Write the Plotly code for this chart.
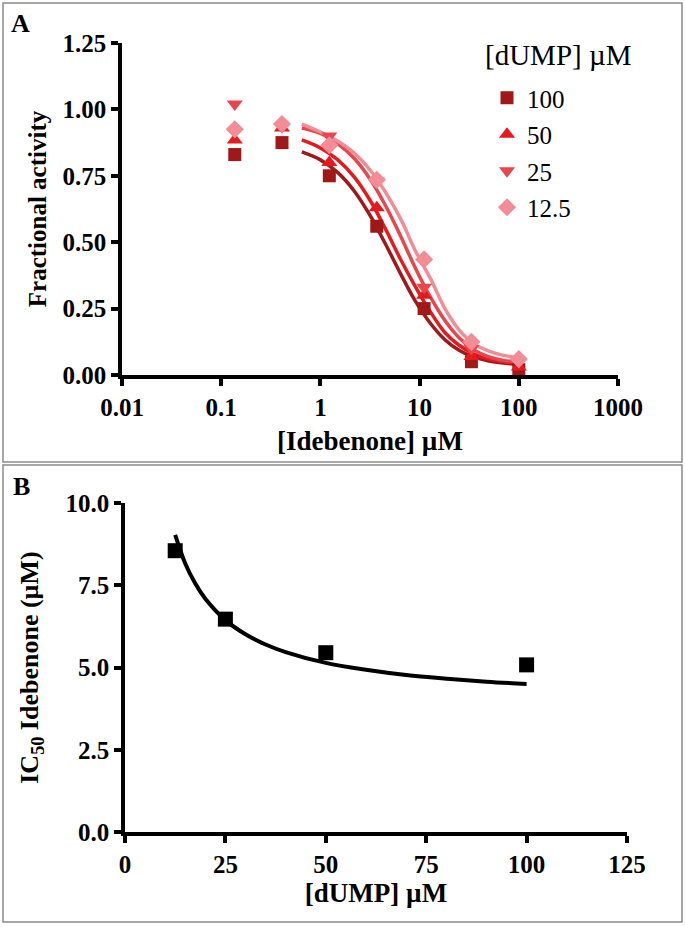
import plotly.graph_objects as go

# ---------------- Data: panel A ----------------
idebenone = [0.137, 0.41, 1.23, 3.7, 11.1, 33.3, 100]
dump_levels = ["100", "50", "25", "12.5"]
act_100 = [0.83, 0.875, 0.75, 0.56, 0.25, 0.05, 0.02]
act_50 = [0.885, 0.93, 0.80, 0.63, 0.30, 0.07, 0.03]
act_25 = [1.02, 0.935, 0.90, 0.73, 0.33, 0.10, 0.05]
act_12 = [0.925, 0.945, 0.865, 0.735, 0.435, 0.125, 0.06]

# fitted curves
fit_x = [0.65, 1, 1.5, 2.2, 3.2, 4.5, 6.5, 9, 13, 18, 25, 35, 50, 70, 100]
fit_100 = [0.840, 0.810, 0.762, 0.692, 0.598, 0.495, 0.378, 0.280, 0.192, 0.133, 0.093, 0.068, 0.053, 0.045, 0.040]
fit_50 = [0.885, 0.855, 0.810, 0.745, 0.655, 0.552, 0.432, 0.335, 0.235, 0.160, 0.112, 0.080, 0.060, 0.050, 0.044]
fit_25 = [0.930, 0.910, 0.870, 0.815, 0.735, 0.640, 0.520, 0.405, 0.290, 0.205, 0.140, 0.095, 0.068, 0.055, 0.048]
fit_12 = [0.945, 0.915, 0.880, 0.835, 0.770, 0.690, 0.585, 0.470, 0.360, 0.250, 0.170, 0.118, 0.090, 0.074, 0.066]

x_ticks_a = [0.01, 0.1, 1, 10, 100, 1000]
x_ticktext_a = ["0.01", "0.1", "1", "10", "100", "1000"]
y_ticks_a = [0, 0.25, 0.5, 0.75, 1.0, 1.25]

# ---------------- Data: panel B ----------------
dump_conc = [12.5, 25, 50, 100]
ic50 = [8.55, 6.47, 5.45, 5.08]
curve_b_x = [12.5, 15, 17.5, 20, 25, 30, 35, 40, 50, 60, 70, 80, 90, 100]
curve_b_y = [9.03, 8.16, 7.55, 7.09, 6.44, 6.01, 5.70, 5.47, 5.14, 4.93, 4.77, 4.66, 4.57, 4.50]
x_ticks_b = [0, 25, 50, 75, 100, 125]
y_ticks_b = [0, 2.5, 5.0, 7.5, 10.0]

colors = ["#a01818", "#e5191e", "#e8464c", "#f28d95"]
symbols = ["square", "triangle-up", "triangle-down", "diamond"]
msizes = [13, 14, 14, 14]
acts = [act_100, act_50, act_25, act_12]
fits = [fit_100, fit_50, fit_25, fit_12]

W, H = 685, 927
FONT = "Liberation Serif"

fig = go.Figure()

for i in range(4):
    fig.add_trace(go.Scatter(
        x=fit_x, y=fits[i], mode="lines", line=dict(color=colors[i], width=3.5, shape="spline"),
        xaxis="x", yaxis="y", showlegend=False, hoverinfo="skip"))
for i in range(4):
    fig.add_trace(go.Scatter(
        x=idebenone, y=acts[i], mode="markers", name=dump_levels[i],
        marker=dict(symbol=symbols[i], color=colors[i], size=msizes[i], line=dict(width=0)),
        xaxis="x", yaxis="y", legendgroup=dump_levels[i], cliponaxis=False))

fig.add_trace(go.Scatter(
    x=curve_b_x, y=curve_b_y, mode="lines", line=dict(color="black", width=4, shape="spline"),
    xaxis="x2", yaxis="y2", showlegend=False))
fig.add_trace(go.Scatter(
    x=dump_conc, y=ic50, mode="markers", marker=dict(symbol="square", color="black", size=15),
    xaxis="x2", yaxis="y2", showlegend=False, cliponaxis=False))

axis_common = dict(
    showline=True, linecolor="black", linewidth=3.5, ticks="outside", ticklen=7, tickwidth=3.5,
    tickcolor="black", showgrid=False, zeroline=False, automargin=False,
    tickfont=dict(family=FONT, size=25, color="black", weight="bold"),
)
title_font = dict(family=FONT, size=26, color="black", weight="bold")

def xdom(a, b):
    return [a / W, b / W]

def ydom(top, bottom):
    return [1 - bottom / H, 1 - top / H]

fig.update_layout(
    template="none",
    width=W, height=H, margin=dict(l=0, r=0, t=0, b=0, pad=0),
    paper_bgcolor="white", plot_bgcolor="white",
    font=dict(family=FONT, color="black"),
    xaxis=dict(axis_common, type="log", range=[-2, 3], domain=xdom(122, 618),
               tickvals=x_ticks_a, ticktext=x_ticktext_a, anchor="y",
               title=dict(text="[Idebenone] µM", font=dict(title_font, size=27), standoff=12)),
    yaxis=dict(axis_common, range=[0, 1.25], domain=ydom(43, 375), tickvals=y_ticks_a,
               tickformat=".2f", anchor="x",
               title=dict(text="Fractional activity", font=dict(title_font, size=25), standoff=10)),
    xaxis2=dict(axis_common, range=[0, 125], domain=xdom(125, 627), tickvals=x_ticks_b, anchor="y2",
                title=dict(text="[dUMP] µM", font=dict(title_font, size=27), standoff=4)),
    yaxis2=dict(axis_common, range=[0, 10], domain=ydom(503, 832), tickvals=y_ticks_b,
                tickformat=".1f", anchor="x2",
                title=dict(text="IC<sub>50</sub> Idebenone (µM)", font=title_font, standoff=20)),
    legend=dict(
        x=487 / W, y=1 - 75 / H, xanchor="left", yanchor="top",
        bgcolor="rgba(0,0,0,0)", tracegroupgap=1, borderwidth=0,
        font=dict(family=FONT, size=25, color="black"),
    ),
    shapes=[
        dict(type="rect", xref="paper", yref="paper", x0=3 / W, x1=682 / W, y0=1 - 462 / H, y1=1 - 3 / H,
             line=dict(color="#8a8a8a", width=1.5)),
        dict(type="rect", xref="paper", yref="paper", x0=3 / W, x1=682 / W, y0=1 - 922 / H, y1=1 - 465 / H,
             line=dict(color="#8a8a8a", width=1.5)),
    ],
    annotations=[
        dict(text="<b>A</b>", x=9 / W, y=1 - 23 / H, xref="paper", yref="paper", xanchor="left",
             yanchor="middle", showarrow=False, font=dict(family=FONT, size=26)),
        dict(text="<b>B</b>", x=11 / W, y=1 - 486 / H, xref="paper", yref="paper", xanchor="left",
             yanchor="middle", showarrow=False, font=dict(family=FONT, size=26)),
        dict(text="[dUMP] µM", x=558 / W, y=1 - 55 / H, xref="paper", yref="paper", xanchor="center",
             yanchor="middle", showarrow=False, font=dict(family=FONT, size=29)),
    ],
)

fig.write_html("out.html", config={"displayModeBar": False},
               post_script="document.body.style.margin='0';")
